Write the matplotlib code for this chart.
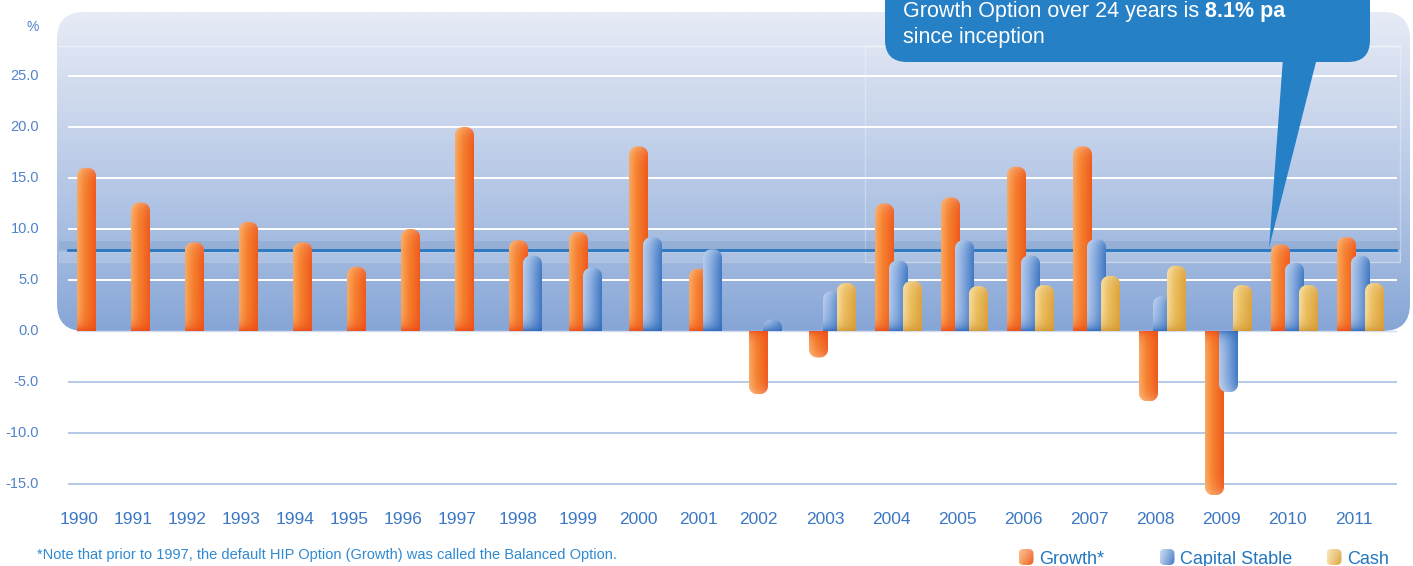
import numpy as np
import matplotlib.pyplot as plt
from matplotlib.patches import FancyBboxPatch, Polygon, Rectangle
from matplotlib.colors import to_rgb

plt.rcParams['font.family'] = ['Liberation Sans', 'DejaVu Sans']

# ---- data ----
years = list(range(1990, 2012))
nan = np.nan
growth = [16.0, 12.6, 8.7, 10.7, 8.7, 6.3, 10.0, 20.0, 8.9, 9.7, 18.1,
          6.1, -6.2, -2.6, 12.5, 13.1, 16.1, 18.1, -6.9, -16.1, 8.5, 9.2]
capital_stable = [nan] * 8 + [7.4, 6.2, 9.2, 8.0, 1.1, 3.9, 6.9, 8.9,
                              7.4, 9.0, 3.4, -6.0, 6.7, 7.4]
cash = [nan] * 13 + [4.7, 4.9, 4.4, 4.5, 5.4, 6.4, 4.5, 4.5, 4.7]
series_names = ['Growth*', 'Capital Stable', 'Cash']
y_ticks = [25, 20, 15, 10, 5, 0, -5, -10, -15]
avg_level = 7.9   # where the "8.1% pa" line sits in the chart
callout_text = 'Growth Option over 24 years is'
callout_bold = ' 8.1% pa'
callout_line2 = 'since inception'
footnote = '*Note that prior to 1997, the default HIP Option (Growth) was called the Balanced Option.'

# bar colours: left, middle, right, base
palettes = [
    ['#f9a862', '#f6822f', '#ef5a1d', '#ec4c18'],
    ['#b4c9ea', '#8aaddf', '#4078c3', '#2d68b8'],
    ['#f6da9c', '#ecbf5f', '#dca33e', '#d29634'],
]

# ---- layout helpers (pixel based layout, 1 x unit = 1 px) ----
W, H = 1413, 566
ZERO_PX = 331
PX_PER_UNIT = 10.2


def yv(px):
    return (ZERO_PX - px) / PX_PER_UNIT


fig = plt.figure(figsize=(W / 100, H / 100), dpi=100)
ax = fig.add_axes([0, 0, 1, 1])
ax.axis('off')

# background panel (only above zero) with vertical gradient
panel_x0, panel_x1 = 57, 1410
panel = FancyBboxPatch((panel_x0, 0), panel_x1 - panel_x0, yv(12),
                       boxstyle='round,pad=0,rounding_size=27',
                       mutation_aspect=1 / PX_PER_UNIT,
                       transform=ax.transData, fc='none', ec='none')
t = np.linspace(0, 1, 256) ** 0.9
top_c, bot_c = np.array(to_rgb('#e7ebf6')), np.array(to_rgb('#85a5d6'))
grad = bot_c + (top_c - bot_c) * t[:, None]
grad = np.repeat(grad[:, None, :], 2, axis=1)
im = ax.imshow(grad, extent=[panel_x0, panel_x1, 0, yv(12)], origin='lower',
               aspect='auto', interpolation='bilinear', zorder=0)
im.set_clip_path(panel)

# faint inner structure of the panel
ax.plot([panel_x0 + 1, 1400], [yv(46), yv(46)], color='white', alpha=0.45, lw=1, zorder=1)
ax.add_patch(Rectangle((865, yv(262)), 1400 - 865, yv(46) - yv(262),
                       fill=False, ec='white', alpha=0.3, lw=1, zorder=1))

# grid lines and y labels
for tk in y_ticks:
    ax.text(39, tk, f'{tk:.1f}', ha='right', va='center', fontsize=10.5,
            color='#5283c8')
    if tk == 0:
        ax.plot([panel_x0 + 20, 1396], [0, 0], color='#d3ddef', lw=1, zorder=1)
        continue
    col = 'white' if tk > 0 else '#b5c9e8'
    ax.plot([69, 1396], [tk, tk], color=col, lw=1.4, zorder=1)
ax.text(33, yv(27), '%', ha='center', va='center', fontsize=10, color='#5283c8')

# average band and line
ax.add_patch(Rectangle((panel_x0 + 2, avg_level), 1400 - panel_x0 - 2, yv(243) - yv(252),
                       fc='#4f72a8', alpha=0.15, ec='none', zorder=1))
ax.add_patch(Rectangle((panel_x0 + 2, yv(262)), 1400 - panel_x0 - 2, yv(252) - yv(262),
                       fc='white', alpha=0.15, ec='white', lw=0.8, zorder=1))
ax.plot([68, 1396], [avg_level, avg_level], color='#2a78c1', lw=2, zorder=1.5)

# ---- bars ----
BAR_W = 19
BAR_STEP = 14
RADIUS = 8


def bar_image(colors, v, ncols=32, nrows=80):
    left, mid, right, base = [np.array(to_rgb(c)) for c in colors]
    u = np.linspace(0, 1, ncols)[:, None]
    prof = np.where(u < 0.4, left + (mid - left) * (u / 0.4),
                    mid + (right - mid) * ((u - 0.4) / 0.6))
    length = abs(v) * PX_PER_UNIT
    d = np.linspace(0, length, nrows)
    bw = (np.exp(-d / 6.0) * 0.85)[:, None, None]
    tw = (np.exp(-(length - d) / 6.0) * 0.25)[:, None, None]
    img = prof[None, :, :] * (1 - bw) + base[None, None, :] * bw
    img = img * (1 - tw) + tw
    return np.clip(img, 0, 1)


def bar_outline(x0, v):
    s = 1 if v >= 0 else -1
    ry = min(RADIUS / PX_PER_UNIT, abs(v))
    x1 = x0 + BAR_W
    pts = [(x0, 0)]
    cy = v - s * ry
    for a in np.linspace(np.pi, np.pi / 2, 12):
        pts.append((x0 + RADIUS + RADIUS * np.cos(a), cy + s * ry * np.sin(a)))
    for a in np.linspace(np.pi / 2, 0, 12):
        pts.append((x1 - RADIUS + RADIUS * np.cos(a), cy + s * ry * np.sin(a)))
    pts.append((x1, 0))
    return Polygon(pts, closed=True, transform=ax.transData)


series = [growth, capital_stable, cash]
counts = [sum(not np.isnan(s[i]) for s in series) for i in range(len(years))]
lefts = [77]
for c in counts[:-1]:
    lefts.append(lefts[-1] + 48 + 6 * c)

for k, (vals, pal) in enumerate(zip(series, palettes)):
    for i, v in enumerate(vals):
        if np.isnan(v):
            continue
        x0 = lefts[i] + k * BAR_STEP
        img = bar_image(pal, v)
        bim = ax.imshow(img, extent=[x0, x0 + BAR_W, 0, v], origin='lower',
                        aspect='auto', interpolation='bilinear', zorder=3 + k)
        bim.set_clip_path(bar_outline(x0, v))

# year labels
for i, yr in enumerate(years):
    gx = lefts[i] + ((counts[i] - 1) * BAR_STEP + BAR_W) / 2 - 7
    ax.text(gx, yv(524), str(yr), ha='center', va='baseline', fontsize=12.5,
            color='#3c77c3')

# ---- callout ----
box = FancyBboxPatch((885, yv(62)), 1370 - 885, yv(-40) - yv(62),
                     boxstyle='round,pad=0,rounding_size=22',
                     mutation_aspect=1 / PX_PER_UNIT, fc='#2680c6', ec='none',
                     zorder=8, clip_on=False)
ax.add_patch(box)
ax.add_patch(Polygon([(1283, yv(58)), (1317, yv(58)), (1269, yv(248))],
                     closed=True, fc='#2680c6', ec='none', zorder=8))
t1 = ax.text(903, yv(17.5), callout_text, color='white', fontsize=15.5,
             va='baseline', ha='left', zorder=9)
ax.text(903, yv(43), callout_line2, color='white', fontsize=15.5,
        va='baseline', ha='left', zorder=9)

# ---- legend ----
leg_x = [1026, 1167, 1334]
for name, pal, lx in zip(series_names, palettes, leg_x):
    sq = FancyBboxPatch((lx - 7.5, yv(565)), 15, yv(549) - yv(565),
                        boxstyle='round,pad=0,rounding_size=5',
                        mutation_aspect=1 / PX_PER_UNIT,
                        transform=ax.transData, fc='none', ec='none')
    u = np.linspace(0, 1, 16)
    c_l, c_r = np.array(to_rgb(pal[0])), np.array(to_rgb(pal[2]))
    g = c_l[None, None, :] * (1 - u[None, :, None]) + c_r[None, None, :] * u[None, :, None]
    v = np.linspace(0, 1, 16)[:, None, None]
    g = g * (1 - 0.3 * v) + 0.3 * v
    lim = ax.imshow(g, extent=[lx - 7.5, lx + 7.5, yv(565), yv(549)], origin='lower',
                    aspect='auto', interpolation='bilinear', zorder=5)
    lim.set_clip_path(sq)
    ax.text(lx + 13, yv(564), name, ha='left', va='baseline', fontsize=13,
            color='#2276c0')

ax.text(37, yv(558.5), footnote, ha='left', va='baseline', fontsize=10.5,
        color='#2f8ad2')

ax.set_xlim(0, W)
ax.set_ylim(yv(H), yv(0))

# bold part of the callout placed right after the regular text
fig.canvas.draw()
bb = t1.get_window_extent(fig.canvas.get_renderer())
x_end = ax.transData.inverted().transform((bb.x1, bb.y0))[0]
ax.text(x_end, yv(17.5), callout_bold, color='white', fontsize=15.5,
        fontweight='bold', va='baseline', ha='left', zorder=9)

fig.savefig('out.png', dpi=100)
